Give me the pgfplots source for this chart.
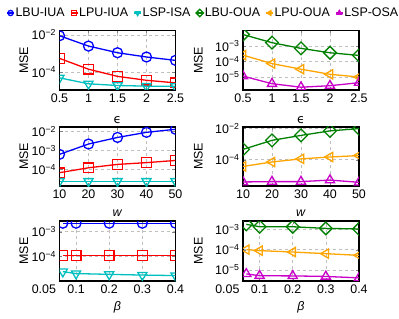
\documentclass[border=0pt]{standalone}
\usepackage{fontspec}
\setmainfont{Liberation Sans}
\newfontfamily\dejavu{DejaVu Sans}
\usepackage{pgfplots}
\pgfplotsset{compat=1.18}
\definecolor{myblue}{RGB}{0,0,255}
\definecolor{myred}{RGB}{255,0,0}
\definecolor{mycyan}{RGB}{0,191,191}
\definecolor{mygreen}{RGB}{0,128,0}
\definecolor{myorange}{RGB}{255,165,0}
\definecolor{mymagenta}{RGB}{200,0,200}
\newcommand{\fs}{\fontsize{12.5}{14}\selectfont}
\pgfplotsset{log number format basis/.code 2 args={\pgfmathtruncatemacro\myexp{round(-(#2))}#1\textsuperscript{\char"2212\relax\myexp}}}
\pgfplotsset{
 every axis/.append style={
  scale only axis, anchor=south west,
  width=116bp,
  /pgf/number format/assume math mode=true,
  tick label style={font=\fs},
  label style={font=\fs},
  grid=major, grid style={dashed, gray!50, line width=0.5bp},
  axis line style={line width=1.3bp},
  major tick length=3bp,
  yminorticks=false, xminorticks=false,
  clip mode=individual, clip marker paths=true,
  ylabel=MSE,
 },
 every axis plot/.append style={line width=1.3bp},
}
\tikzset{
 s1/.style={color=myblue, mark=o, mark size=5bp, mark options={solid}},
 s2/.style={color=myred, mark=square, mark size=4.8bp, mark options={solid}},
 s3/.style={color=mycyan, mark=triangle, mark size=5.3bp, mark options={solid, rotate=180}},
 s4/.style={color=mygreen, mark=square, mark size=4.5bp, mark options={solid, rotate=45}},
 s5/.style={color=myorange, mark=triangle, mark size=5.3bp, mark options={solid, rotate=90}},
 s6/.style={color=mymagenta, mark=triangle, mark size=5.3bp, mark options={solid}},
}
\begin{document}
\begin{tikzpicture}
\path[use as bounding box] (0,0) rectangle (399bp,319bp);
% ---------- top left ----------
\begin{axis}[ymode=log, at={(59.5bp,229bp)}, height=59.5bp,
  ylabel style={at={(axis description cs:-0.307,0.5)}, anchor=center},
  xmin=0.5, xmax=2.5, xtick={0.5,1,1.5,2,2.5}, xticklabels={0.5,1,1.5,2,2.5},
  ymin=1.12e-5, ymax=1.7e-2, ytick={1e-2,1e-4},
  xlabel={\dejavu ϵ}, xlabel style={at={(axis description cs:0.5,-0.50)}, anchor=center},
  legend columns=6,
  legend style={at={(axis description cs:1.235,1.294)}, anchor=center, draw=none, fill=none,
    font=\fs, inner sep=0pt, nodes={inner sep=0.8bp},
    /tikz/every even column/.append style={column sep=4.5bp}},
  legend image code/.code={\draw[mark repeat=2,mark phase=2,#1, mark size=2.6bp] plot coordinates {(0bp,0bp) (3.5bp,0bp) (7bp,0bp)};},
]
\addplot[s1] coordinates {(0.5,8.9e-3) (1,2.5e-3) (1.5,1.1e-3) (2,6.5e-4) (2.5,4.3e-4)};
\addplot[s2] coordinates {(0.5,5.5e-4) (1,1.45e-4) (1.5,6.0e-5) (2,3.7e-5) (2.5,2.7e-5)};
\addplot[s3] coordinates {(0.5,5.0e-5) (1,2.4e-5) (1.5,1.95e-5) (2,1.8e-5) (2.5,1.75e-5)};
\addlegendimage{s4}
\addlegendimage{s5}
\addlegendimage{s6}
\legend{LBU-IUA,LPU-IUA,LSP-ISA,LBU-OUA,LPU-OUA,LSP-OSA}
\end{axis}
% ---------- top right ----------
\begin{axis}[ymode=log, at={(243bp,229bp)}, height=59.5bp,
  ylabel style={at={(axis description cs:-0.384,0.5)}, anchor=center},
  xmin=0.5, xmax=2.5, xtick={0.5,1,1.5,2,2.5}, xticklabels={0.5,1,1.5,2,2.5},
  ymin=1.45e-6, ymax=1.02e-2, ytick={1e-3,1e-4,1e-5},
  xlabel={\dejavu ϵ}, xlabel style={at={(axis description cs:0.5,-0.50)}, anchor=center},
]
\addplot[s4] coordinates {(0.5,5.6e-3) (1,1.66e-3) (1.5,7.1e-4) (2,3.7e-4) (2.5,2.5e-4)};
\addplot[s5] coordinates {(0.5,2.6e-4) (1,7.4e-5) (1.5,3.2e-5) (2,1.5e-5) (2.5,1.0e-5)};
\addplot[s6] coordinates {(0.5,1.15e-5) (1,3.7e-6) (1.5,2.2e-6) (2,2.75e-6) (2.5,4.3e-6)};
\end{axis}
% ---------- middle left ----------
\begin{axis}[ymode=log, at={(59.5bp,133bp)}, height=59bp,
  ylabel style={at={(axis description cs:-0.307,0.5)}, anchor=center},
  xmin=10, xmax=50, xtick={10,20,30,40,50},
  ymin=1.35e-5, ymax=1.74e-2, ytick={1e-2,1e-3,1e-4},
  xlabel={\textit{w}}, xlabel style={at={(axis description cs:0.5,-0.46)}, anchor=center},
]
\addplot[s1] coordinates {(10,6.3e-4) (20,2.2e-3) (30,4.9e-3) (40,9.1e-3) (50,1.32e-2)};
\addplot[s2] coordinates {(10,6.8e-5) (20,1.23e-4) (30,1.86e-4) (40,2.3e-4) (50,3.0e-4)};
\addplot[s3] coordinates {(10,2.4e-5) (20,2.4e-5) (30,2.4e-5) (40,2.4e-5) (50,2.4e-5)};
\end{axis}
% ---------- middle right ----------
\begin{axis}[ymode=log, at={(243bp,133bp)}, height=59bp,
  ylabel style={at={(axis description cs:-0.384,0.5)}, anchor=center},
  xmin=10, xmax=50, xtick={10,20,30,40,50},
  ymin=2.1e-6, ymax=1.2e-2, ytick={1e-2,1e-4},
  xlabel={\textit{w}}, xlabel style={at={(axis description cs:0.5,-0.46)}, anchor=center},
]
\addplot[s4] coordinates {(10,4.5e-4) (20,1.7e-3) (30,3.5e-3) (40,6.8e-3) (50,9.5e-3)};
\addplot[s5] coordinates {(10,3.7e-5) (20,7.1e-5) (30,1.12e-4) (40,1.48e-4) (50,1.82e-4)};
\addplot[s6] coordinates {(10,3.8e-6) (20,4.0e-6) (30,4.0e-6) (40,5.0e-6) (50,3.6e-6)};
\end{axis}
% ---------- bottom left ----------
\begin{axis}[ymode=log, at={(59.5bp,38bp)}, height=60bp,
  ylabel style={at={(axis description cs:-0.307,0.5)}, anchor=center},
  xmin=0.05, xmax=0.4, xtick={0.05,0.1,0.2,0.3,0.4}, xticklabels={\llap{0.05\hspace{3.5bp}},0.1,0.2,0.3,0.4},
  ymin=1e-5, ymax=2.7e-3, ytick={1e-3,1e-4},
  xlabel={\textit{β}}, xlabel style={at={(axis description cs:0.5,-0.43)}, anchor=center},
]
\addplot[s1] coordinates {(0.06,2.2e-3) (0.1,2.2e-3) (0.2,2.2e-3) (0.3,2.2e-3) (0.4,2.2e-3)};
\addplot[s2] coordinates {(0.06,1.07e-4) (0.1,1.07e-4) (0.2,1.07e-4) (0.3,1.07e-4) (0.4,1.07e-4)};
\addplot[s3] coordinates {(0.06,2.4e-5) (0.1,2.0e-5) (0.2,1.86e-5) (0.3,1.74e-5) (0.4,1.66e-5)};
\end{axis}
% ---------- bottom right ----------
\begin{axis}[ymode=log, at={(243bp,38bp)}, height=60bp,
  ylabel style={at={(axis description cs:-0.384,0.5)}, anchor=center},
  xmin=0.05, xmax=0.4, xtick={0.05,0.1,0.2,0.3,0.4}, xticklabels={\llap{0.05\hspace{3.5bp}},0.1,0.2,0.3,0.4},
  ymin=2.8e-6, ymax=2.6e-3, ytick={1e-3,1e-4,1e-5},
  xlabel={\textit{β}}, xlabel style={at={(axis description cs:0.5,-0.43)}, anchor=center},
]
\addplot[s4] coordinates {(0.06,1.78e-3) (0.1,1.35e-3) (0.2,1.35e-3) (0.3,1.12e-3) (0.4,1.05e-3)};
\addplot[s5] coordinates {(0.06,1.0e-4) (0.1,8.9e-5) (0.2,7.6e-5) (0.3,6.3e-5) (0.4,5.2e-5)};
\addplot[s6] coordinates {(0.06,6.3e-6) (0.1,5.1e-6) (0.2,5.0e-6) (0.3,4.7e-6) (0.4,4.0e-6)};
\end{axis}
\end{tikzpicture}
\end{document}
